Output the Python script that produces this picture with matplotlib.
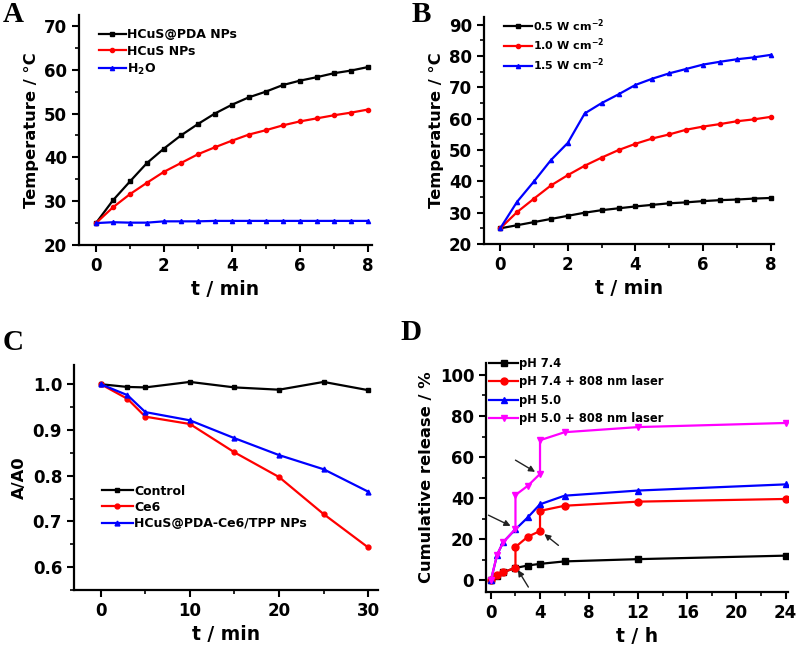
import numpy as np
import matplotlib
matplotlib.use('Agg')
import matplotlib.pyplot as plt
from matplotlib.ticker import MultipleLocator, FormatStrFormatter

plt.rcParams['font.family'] = ['DejaVu Sans']
plt.rcParams['font.weight'] = 'bold'
plt.rcParams['axes.labelweight'] = 'bold'
plt.rcParams['mathtext.default'] = 'bf'

# panel A / B: heating curves
t_heat = np.arange(0, 8.01, 0.5)
hcus_pda = [25, 30.2, 34.5, 38.7, 42, 45, 47.6, 50, 52, 53.7, 55, 56.5, 57.5, 58.3, 59.2, 59.8, 60.6]
hcus = [25, 28.6, 31.6, 34.2, 36.7, 38.7, 40.7, 42.3, 43.8, 45.2, 46.2, 47.3, 48.2, 48.9, 49.6, 50.2, 50.9]
water = [25, 25.2, 25.1, 25.1, 25.4, 25.4, 25.4, 25.5, 25.5, 25.5, 25.5, 25.5, 25.5, 25.5, 25.5, 25.5, 25.5]

p05 = [25, 26, 27, 28, 29, 30, 30.8, 31.4, 32, 32.5, 33, 33.3, 33.7, 34, 34.2, 34.5, 34.7]
p10 = [25, 30.2, 34.5, 38.7, 42, 45, 47.6, 50, 52, 53.7, 55, 56.5, 57.5, 58.3, 59.2, 59.8, 60.6]
p15 = [25, 33.5, 40, 46.8, 52.3, 61.7, 65, 67.8, 70.8, 72.8, 74.5, 75.9, 77.3, 78.2, 79, 79.6, 80.4]

# panel C: singlet oxygen
t_c = [0, 3, 5, 10, 15, 20, 25, 30]
control = [1.0, 0.994, 0.993, 1.005, 0.993, 0.988, 1.005, 0.987]
ce6 = [1.0, 0.968, 0.929, 0.913, 0.851, 0.797, 0.716, 0.643]
hcus_ce6 = [1.0, 0.976, 0.939, 0.921, 0.882, 0.845, 0.814, 0.765]

# panel D: release
t_d = [0, 0.5, 1, 2, 3, 4, 6, 12, 24]
ph74 = [0, 2, 4, 6, 7.2, 8, 9.2, 10.3, 12]
t_d_laser = [0, 0.5, 1, 2, 2, 3, 4, 4, 6, 12, 24]
ph74_laser = [0, 2.5, 4, 6, 16.2, 21.2, 24, 33.8, 36.3, 38.3, 39.6]
ph50 = [0, 12.3, 18.6, 24.8, 30.6, 37, 41.2, 43.7, 46.7]
ph50_laser = [0, 12.5, 18.5, 25, 41.5, 46, 51.8, 68.2, 72.1, 74.6, 76.6]

W, H = 796, 645
fig = plt.figure(figsize=(W / 100, H / 100), dpi=100)

XL = 13.5   # x label size
YL = 11.8   # y label size

def make_ax(l, t, r, b):
    ax = fig.add_axes([l / W, 1 - b / H, (r - l) / W, (b - t) / H])
    for s in ['top', 'right']:
        ax.spines[s].set_visible(False)
    for s in ['left', 'bottom']:
        ax.spines[s].set_linewidth(1.6)
    ax.tick_params(which='major', direction='out', length=5, width=1.5, labelsize=12)
    ax.tick_params(which='minor', direction='out', length=3, width=1.2)
    return ax

def panel_label(x, y, s):
    fig.text(x / W, 1 - y / H, s, family='Liberation Serif', fontsize=21,
             fontweight='bold', ha='left', va='center')

lw = 1.6
leg_kw = dict(frameon=False, handletextpad=0.1, borderaxespad=0)

# A
ax = make_ax(79, 15, 372, 245)
ax.plot(t_heat, hcus_pda, color='black', marker='s', ms=3, lw=lw, label='HCuS@PDA NPs')
ax.plot(t_heat, hcus, color='red', marker='o', ms=3, lw=lw, label='HCuS NPs')
ax.plot(t_heat, water, color='blue', marker='^', ms=3, lw=lw, label='H$_2$O')
ax.set_xlim(-0.5, 8.13)
ax.set_ylim(20, 72.5)
ax.xaxis.set_major_locator(MultipleLocator(2))
ax.xaxis.set_minor_locator(MultipleLocator(1))
ax.yaxis.set_major_locator(MultipleLocator(10))
ax.yaxis.set_minor_locator(MultipleLocator(5))
ax.set_xlabel('t / min', fontsize=XL)
ax.set_ylabel('Temperature / \u00b0C', fontsize=YL)
ax.legend(loc='upper left', bbox_to_anchor=(0.05, 0.965), fontsize=9,
          handlelength=2.2, labelspacing=0.3, **leg_kw)
panel_label(3, 15, 'A')

# B
ax = make_ax(484, 17, 774, 244)
ax.plot(t_heat, p05, color='black', marker='s', ms=3, lw=lw, label='0.5 W cm$^{-2}$')
ax.plot(t_heat, p10, color='red', marker='o', ms=3, lw=lw, label='1.0 W cm$^{-2}$')
ax.plot(t_heat, p15, color='blue', marker='^', ms=3, lw=lw, label='1.5 W cm$^{-2}$')
ax.set_xlim(-0.48, 8.1)
ax.set_ylim(20, 92.5)
ax.xaxis.set_major_locator(MultipleLocator(2))
ax.xaxis.set_minor_locator(MultipleLocator(1))
ax.yaxis.set_major_locator(MultipleLocator(10))
ax.yaxis.set_minor_locator(MultipleLocator(5))
ax.set_xlabel('t / min', fontsize=XL)
ax.set_ylabel('Temperature / \u00b0C', fontsize=YL)
ax.legend(loc='upper left', bbox_to_anchor=(0.055, 1.02), fontsize=8,
          handlelength=2.5, labelspacing=0.3, **leg_kw)
panel_label(412, 15, 'B')

# C
ax = make_ax(74, 365, 378, 590)
ax.plot(t_c, control, color='black', marker='s', ms=3.5, lw=lw, label='Control')
ax.plot(t_c, ce6, color='red', marker='o', ms=3.5, lw=lw, label='Ce6')
ax.plot(t_c, hcus_ce6, color='blue', marker='^', ms=3.5, lw=lw, label='HCuS@PDA-Ce6/TPP NPs')
ax.set_xlim(-3, 31.1)
ax.set_ylim(0.55, 1.042)
ax.xaxis.set_major_locator(MultipleLocator(10))
ax.xaxis.set_minor_locator(MultipleLocator(5))
ax.yaxis.set_major_locator(MultipleLocator(0.1))
ax.yaxis.set_minor_locator(MultipleLocator(0.05))
ax.yaxis.set_major_formatter(FormatStrFormatter('%.1f'))
ax.set_xlabel('t / min', fontsize=XL)
ax.set_ylabel('A/A0', fontsize=YL)
ax.legend(loc='upper left', bbox_to_anchor=(0.075, 0.49), fontsize=9,
          handlelength=2.5, labelspacing=0.25, **leg_kw)
panel_label(3, 343, 'C')

# D
ax = make_ax(486, 363, 788, 592)
ax.plot(t_d, ph74, color='black', marker='s', ms=5, lw=lw, label='pH 7.4')
ax.plot(t_d_laser, ph74_laser, color='red', marker='o', ms=5, lw=lw, label='pH 7.4 + 808 nm laser')
ax.plot(t_d, ph50, color='blue', marker='^', ms=5, lw=lw, label='pH 5.0')
ax.plot(t_d_laser, ph50_laser, color='magenta', marker='v', ms=5, lw=lw, label='pH 5.0 + 808 nm laser')
arrows = [((3.05, -3.3), (2.2, 5.0)), ((5.5, 17.0), (4.35, 22.5)),
          ((-0.2, 31.7), (1.6, 26.5)), ((2.0, 58.5), (3.6, 52.8))]
for tail, head in arrows:
    ax.annotate('', xy=head, xytext=tail,
                arrowprops=dict(arrowstyle='-|>', color='#222222', lw=1.0,
                                mutation_scale=9, shrinkA=0, shrinkB=0),
                annotation_clip=False)
ax.set_xlim(-0.4, 24.2)
ax.set_ylim(-5.7, 105.8)
ax.xaxis.set_major_locator(MultipleLocator(4))
ax.xaxis.set_minor_locator(MultipleLocator(2))
ax.yaxis.set_major_locator(MultipleLocator(20))
ax.yaxis.set_minor_locator(MultipleLocator(10))
ax.set_xlabel('t / h', fontsize=XL)
ax.set_ylabel('Cumulative release / %', fontsize=YL)
ax.legend(loc='upper left', bbox_to_anchor=(-0.005, 1.045), fontsize=8.3,
          handlelength=2.5, labelspacing=0.45, **leg_kw)
panel_label(400, 333, 'D')

fig.savefig('out.png', dpi=100)
